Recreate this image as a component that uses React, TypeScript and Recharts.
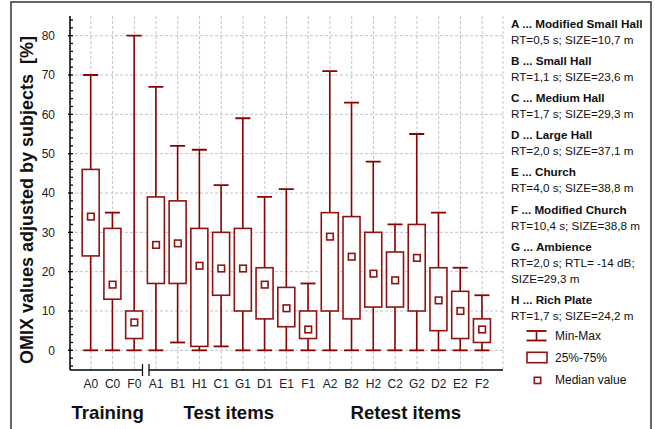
import React from 'react';
import { ComposedChart, Bar, Scatter, XAxis, YAxis, CartesianGrid } from 'recharts';

const categories = ['A0', 'C0', 'F0', 'A1', 'B1', 'H1', 'C1', 'G1', 'D1', 'E1', 'F1', 'A2', 'B2', 'H2', 'C2', 'G2', 'D2', 'E2', 'F2'];
const minValues = [0, 0, 0, 0, 2, 0, 1, 0, 0, 0, 0, 0, 0, 0, 0, 0, 0, 0, 0];
const q1Values = [24, 13, 3, 17, 17, 1, 14, 10, 8, 6, 3, 10, 8, 11, 11, 10, 5, 3, 2];
const medianValues = [34, 16.7, 7.1, 26.8, 27.2, 21.5, 20.8, 20.8, 16.7, 10.7, 5.3, 28.9, 23.8, 19.5, 17.8, 23.5, 12.7, 10, 5.3];
const q3Values = [46, 31, 10, 39, 38, 31, 30, 31, 21, 16, 10, 35, 34, 30, 25, 32, 21, 15, 8];
const maxValues = [70, 35, 80, 67, 52, 51, 42, 59, 39, 41, 17, 71, 63, 48, 32, 55, 35, 21, 14];

const yTickLabels = [0, 10, 20, 30, 40, 50, 60, 70, 80];
const yDomain: [number, number] = [-5, 85];

const groupLabels = [
  { text: 'Training', x: 71.5 },
  { text: 'Test items', x: 183.5 },
  { text: 'Retest items', x: 350.5 },
];

const legendEntries = [
  { title: 'A ... Modified Small Hall', lines: ['RT=0,5 s; SIZE=10,7 m'] },
  { title: 'B ... Small Hall', lines: ['RT=1,1 s; SIZE=23,6 m'] },
  { title: 'C ... Medium Hall', lines: ['RT=1,7 s; SIZE=29,3 m'] },
  { title: 'D ... Large Hall', lines: ['RT=2,0 s; SIZE=37,1 m'] },
  { title: 'E ... Church', lines: ['RT=4,0 s; SIZE=38,8 m'] },
  { title: 'F ... Modified Church', lines: ['RT=10,4 s; SIZE=38,8 m'] },
  { title: 'G ... Ambience', lines: ['RT=2,0 s; RTL= -14 dB;', 'SIZE=29,3 m'] },
  { title: 'H ... Rich Plate', lines: ['RT=1,7 s; SIZE=24,2 m'] },
];

const legendKeys = ['Min-Max', '25%-75%', 'Median value'];

const data = categories.map((name, i) => ({
  name,
  min: minValues[i],
  q1: q1Values[i],
  median: medianValues[i],
  q3: q3Values[i],
  max: maxValues[i],
}));

const minorTicks: number[] = [];
for (let v = -4; v <= 84; v += 2) minorTicks.push(v);

const FONT = '"Liberation Sans", Arial, Helvetica, sans-serif';
const RED = '#8b0000';
const BOXRED = '#8e1414';

const WhiskerShape = (props: any) => {
  const { x, y, width, height } = props;
  if (x == null || y == null) return null;
  const cx = x + width / 2;
  const top = Math.min(y, y + height);
  const bottom = Math.max(y, y + height);
  return (
    <g>
      <line x1={cx} x2={cx} y1={top} y2={bottom} stroke={RED} strokeWidth={1.6} />
      <line x1={cx - 7.5} x2={cx + 7.5} y1={top} y2={top} stroke={RED} strokeWidth={1.8} />
      <line x1={cx - 7.5} x2={cx + 7.5} y1={bottom} y2={bottom} stroke={RED} strokeWidth={1.8} />
    </g>
  );
};

const BoxShape = (props: any) => {
  const { x, y, width, height } = props;
  if (x == null || y == null) return null;
  const cx = x + width / 2;
  const top = Math.min(y, y + height);
  const h = Math.abs(height);
  return <rect x={cx - 8.5} y={top} width={17} height={h} fill="#fff" stroke={BOXRED} strokeWidth={1.6} />;
};

const MedianShape = (props: any) => {
  const { cx, cy } = props;
  if (cx == null || cy == null) return null;
  return <rect x={cx - 3.3} y={cy - 3.3} width={6.6} height={6.6} fill="#fff" stroke={BOXRED} strokeWidth={1.6} />;
};

const LeftTick = (props: any) => {
  const { x, y, payload } = props;
  const v = payload.value;
  const major = v % 10 === 0;
  return (
    <g>
      <line x1={major ? x - 2 : x} x2={x + 3} y1={y} y2={y} stroke="#000" strokeWidth={1.3} />
      {major && v >= 0 && v <= 80 && (
        <text x={x - 15} y={y} dy={4.3} textAnchor="end" fontSize={12} fill="#222" fontFamily={FONT}>
          {v}
        </text>
      )}
    </g>
  );
};

const RightTick = (props: any) => {
  const { x, y, payload } = props;
  const v = payload.value;
  const major = v % 10 === 0;
  return <line x1={x - 3} x2={major ? x + 2 : x} y1={y} y2={y} stroke="#000" strokeWidth={1.3} />;
};

const BottomTick = (props: any) => {
  const { x, y, payload } = props;
  return (
    <text x={x} y={y + 17.5} textAnchor="middle" fontSize={12} fill="#222" fontFamily={FONT}>
      {payload.value}
    </text>
  );
};

const TopTick = (props: any) => {
  const { x, y } = props;
  return <line x1={x} x2={x} y1={y} y2={y + 3} stroke="#000" strokeWidth={1.3} />;
};

const Overlay = () => {
  const lines: React.ReactNode[] = [];
  let base = 27.5;
  legendEntries.forEach((e, i) => {
    lines.push(
      <text key={'t' + i} x={511} y={base} fontSize={11.7} fontWeight="bold" fill="#111" fontFamily={FONT}>
        {e.title}
      </text>
    );
    e.lines.forEach((l, j) => {
      base += 16;
      lines.push(
        <text key={'l' + i + '_' + j} x={511} y={base} fontSize={11.7} fill="#111" fontFamily={FONT}>
          {l}
        </text>
      );
    });
    base += 21.2;
  });
  return (
    <svg width={655} height={429} style={{ position: 'absolute', left: 0, top: 0, pointerEvents: 'none' }}>
      <rect x={11} y={2} width={640} height={440} fill="none" stroke="#333" strokeWidth={1.5} />
      <text
        x={33}
        y={200}
        transform="rotate(-90, 33, 200)"
        textAnchor="middle"
        fontSize={18}
        fontWeight="bold"
        fill="#111"
        fontFamily={FONT}
        xmlSpace="preserve"
      >
        {'OMIX values adjusted by subjects  [%]'}
      </text>
      {groupLabels.map((g) => (
        <text key={g.text} x={g.x} y={419.3} fontSize={18.6} fontWeight="bold" fill="#111" fontFamily={FONT}>
          {g.text}
        </text>
      ))}
      {/* axis break */}
      <rect x={142.5} y={366} width={6.5} height={8} fill="#fff" />
      <line x1={142.5} x2={142.5} y1={364} y2={376} stroke="#000" strokeWidth={1.2} />
      <line x1={149} x2={149} y1={364} y2={376} stroke="#000" strokeWidth={1.2} />
      {lines}
      {/* legend keys */}
      <line x1={536.5} x2={536.5} y1={331} y2={340.5} stroke={RED} strokeWidth={1.6} />
      <line x1={526.5} x2={546.5} y1={331} y2={331} stroke={RED} strokeWidth={1.8} />
      <line x1={526.5} x2={546.5} y1={340.5} y2={340.5} stroke={RED} strokeWidth={1.8} />
      <text x={555} y={339.5} fontSize={12} fill="#111" fontFamily={FONT}>{legendKeys[0]}</text>
      <rect x={527} y={352.3} width={20} height={10.4} fill="#fff" stroke={BOXRED} strokeWidth={1.6} />
      <text x={555} y={361.8} fontSize={12} fill="#111" fontFamily={FONT}>{legendKeys[1]}</text>
      <rect x={534.3} y={377.3} width={6.4} height={6.2} fill="#fff" stroke={BOXRED} strokeWidth={1.6} />
      <text x={555} y={384.2} fontSize={12} fill="#111" fontFamily={FONT}>{legendKeys[2]}</text>
    </svg>
  );
};

export default function App() {
  return (
    <div style={{ position: 'absolute', left: 0, top: 0, width: 655, height: 429, background: '#fff', fontFamily: FONT }}>
      <ComposedChart width={655} height={429} data={data} margin={{ top: 16, right: 152, bottom: 0, left: 0 }}>
        <CartesianGrid
          horizontalValues={yTickLabels}
          stroke="#c4c4c4"
          strokeDasharray="3 2"
          strokeWidth={1}
        />
        <XAxis
          dataKey="name"
          type="category"
          interval={0}
          padding={{ left: 10, right: 10 }}
          height={59}
          axisLine={{ stroke: '#000', strokeWidth: 1.5 }}
          tickLine={false}
          tickSize={0}
          tickMargin={0}
          tick={(p: any) => <BottomTick {...p} />}
        />
        <XAxis
          xAxisId="top"
          dataKey="name"
          type="category"
          orientation="top"
          interval={0}
          padding={{ left: 10, right: 10 }}
          height={0}
          axisLine={{ stroke: '#000', strokeWidth: 1.5 }}
          tickLine={false}
          tickSize={0}
          tickMargin={0}
          tick={(p: any) => <TopTick {...p} />}
        />
        <YAxis
          type="number"
          domain={yDomain}
          allowDataOverflow
          ticks={minorTicks}
          interval={0}
          width={70}
          axisLine={{ stroke: '#000', strokeWidth: 1.5 }}
          tickLine={false}
          tickSize={0}
          tickMargin={0}
          tick={(p: any) => <LeftTick {...p} />}
        />
        <YAxis
          yAxisId="right"
          orientation="right"
          type="number"
          domain={yDomain}
          allowDataOverflow
          ticks={minorTicks}
          interval={0}
          width={0}
          axisLine={{ stroke: '#000', strokeWidth: 1.5 }}
          tickLine={false}
          tickSize={0}
          tickMargin={0}
          tick={(p: any) => <RightTick {...p} />}
        />
        <Bar
          dataKey={(d: any) => [d.min, d.max]}
          isAnimationActive={false}
          shape={(p: any) => <WhiskerShape {...p} />}
        />
        <Bar
          xAxisId="top"
          yAxisId="right"
          dataKey={(d: any) => [d.q1, d.q3]}
          isAnimationActive={false}
          shape={(p: any) => <BoxShape {...p} />}
        />
        <Scatter dataKey="median" isAnimationActive={false} shape={(p: any) => <MedianShape {...p} />} />
      </ComposedChart>
      <Overlay />
    </div>
  );
}
